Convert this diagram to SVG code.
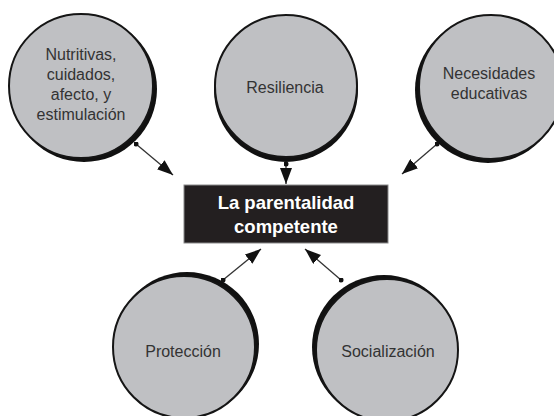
<svg xmlns="http://www.w3.org/2000/svg" width="554" height="416" viewBox="0 0 554 416">
<style>
.bg{fill:#ffffff}
.shadow{fill:#111111}
.node{fill:#bfc0c3;stroke:#151515;stroke-width:2}
.lbl{font-family:"Liberation Sans",Arial,sans-serif;font-size:16px;fill:#333333;text-anchor:middle}
.box{fill:#231f20;stroke:#8a8a8a;stroke-width:1}
.boxlbl{font-family:"Liberation Sans",Arial,sans-serif;font-size:18.5px;font-weight:bold;fill:#ffffff;text-anchor:middle}
.conn{stroke:#333333;stroke-width:1.3;fill:none;marker-start:url(#dot);marker-end:url(#arr)}
</style>
<defs>
<marker id="arr" viewBox="0 0 16 12" refX="16" refY="6" markerWidth="16" markerHeight="12" markerUnits="userSpaceOnUse" orient="auto">
<path d="M0,0 L16,6 L0,12 Z" fill="#111111"/>
</marker>
<marker id="dot" viewBox="0 0 6 6" refX="3" refY="3" markerWidth="5" markerHeight="5" markerUnits="userSpaceOnUse">
<circle cx="3" cy="3" r="3" fill="#111111"/>
</marker>
</defs>
<rect class="bg" x="0" y="0" width="554" height="416"/>
<g id="nutritivas">
<circle class="shadow" cx="84" cy="89" r="73"/>
<circle class="node" cx="81" cy="86" r="72"/>
<text class="lbl" x="81" y="60">Nutritivas,</text>
<text class="lbl" x="81" y="80">cuidados,</text>
<text class="lbl" x="81" y="100">afecto, y</text>
<text class="lbl" x="81" y="120">estimulación</text>
</g>
<g id="resiliencia">
<circle class="shadow" cx="286" cy="90" r="72"/>
<circle class="node" cx="286" cy="86" r="71"/>
<text class="lbl" x="285" y="93">Resiliencia</text>
</g>
<g id="necesidades">
<circle class="shadow" cx="488" cy="90" r="73"/>
<circle class="node" cx="491" cy="87" r="72"/>
<text class="lbl" x="489" y="79">Necesidades</text>
<text class="lbl" x="489" y="99">educativas</text>
</g>
<g id="proteccion">
<circle class="shadow" cx="187" cy="344" r="72"/>
<circle class="node" cx="184" cy="347" r="71"/>
<text class="lbl" x="183" y="357">Protección</text>
</g>
<g id="socializacion">
<circle class="shadow" cx="384" cy="347" r="72"/>
<circle class="node" cx="387" cy="350" r="71"/>
<text class="lbl" x="388" y="357">Socialización</text>
</g>
<g id="center">
<rect class="box" x="184" y="185" width="204" height="58"/>
<text class="boxlbl" x="286" y="209">La parentalidad</text>
<text class="boxlbl" x="286" y="233">competente</text>
</g>
<g id="connectors">
<line class="conn" x1="136" y1="144" x2="173" y2="175"/>
<line class="conn" x1="286" y1="164" x2="286" y2="184"/>
<line class="conn" x1="437" y1="144" x2="402" y2="174"/>
<line class="conn" x1="223" y1="280" x2="261" y2="249"/>
<line class="conn" x1="341" y1="280" x2="305" y2="249"/>
</g>
</svg>
